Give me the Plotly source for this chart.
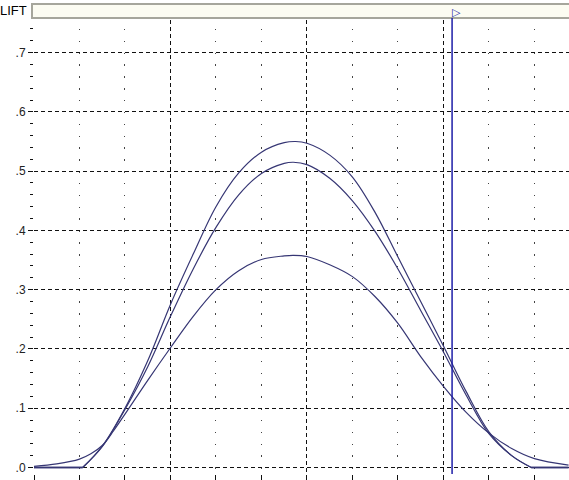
import plotly.graph_objects as go

# ---- data ----
x_a = [1.07, 1.5, 2.0, 2.5, 3.0, 3.5, 4.0, 4.5, 5.0, 5.5, 5.75, 6.0, 6.5, 7.0, 7.5, 8.0, 8.5, 9.0, 9.5, 10.0, 10.5, 10.93]
y_a = [0, 0.036, 0.10, 0.18, 0.275, 0.36, 0.44, 0.497, 0.532, 0.548, 0.55, 0.547, 0.527, 0.49, 0.43, 0.355, 0.28, 0.205, 0.128, 0.06, 0.02, 0]

x_b = [1.07, 1.5, 2.0, 2.5, 3.0, 3.5, 4.0, 4.5, 5.0, 5.5, 5.7, 6.0, 6.5, 7.0, 7.5, 8.0, 8.5, 9.0, 9.5, 10.0, 10.5, 10.93]
y_b = [0, 0.035, 0.098, 0.17, 0.255, 0.335, 0.405, 0.46, 0.496, 0.513, 0.515, 0.511, 0.488, 0.45, 0.398, 0.335, 0.265, 0.195, 0.122, 0.057, 0.02, 0]

x_c = [0, 0.5, 1.0, 1.25, 1.5, 1.75, 2.0, 2.5, 3.0, 3.5, 4.0, 4.5, 5.0, 5.5, 5.7, 6.0, 6.5, 7.0, 7.5, 8.0, 8.5, 9.0, 9.5, 10.0, 10.5, 11.0, 11.75]
y_c = [0.002, 0.006, 0.014, 0.023, 0.037, 0.062, 0.09, 0.147, 0.202, 0.255, 0.30, 0.332, 0.351, 0.357, 0.358, 0.356, 0.342, 0.322, 0.288, 0.243, 0.187, 0.137, 0.093, 0.058, 0.032, 0.015, 0.004]

x_end = 11.75          # right end of the zero-level tails of curves A and B
cursor_x = 9.19
y_tickvals = [0, 0.1, 0.2, 0.3, 0.4, 0.5, 0.6, 0.7]
y_ticktext = [".0", ".1", ".2", ".3", ".4", ".5", ".6", ".7"]
title_text = "LIFT"

# ---- figure ----
W, H = 569, 480
L, R, T, B = 34, 0, 20, 6
PW, PH = W - L - R, H - T - B
Y0, Y1 = -0.011, 0.755
X0, X1 = 0, 11.76

curve_color = "#363674"
fig = go.Figure()
line_style = dict(color=curve_color, width=1.2, shape="spline", smoothing=1.0)
fig.add_trace(go.Scatter(x=x_c, y=y_c, mode="lines", line=line_style,
                         hoverinfo="skip", showlegend=False))
for xs, ys in [(x_b, y_b), (x_a, y_a)]:
    fig.add_trace(go.Scatter(x=xs, y=ys, mode="lines", line=line_style,
                             hoverinfo="skip", showlegend=False))
    # flat zero tails at both ends
    fig.add_trace(go.Scatter(x=[0, xs[0], None, xs[-1], x_end], y=[ys[0], ys[0], None, ys[-1], ys[-1]],
                             mode="lines", line=dict(color=curve_color, width=1.4),
                             hoverinfo="skip", showlegend=False))

def py(p):
    return 1 + (T - p) / PH

def px(p):
    return (p - L) / PW

# header bar
fig.add_shape(type="rect", xref="paper", yref="paper",
              x0=px(32), x1=px(572), y0=py(18), y1=py(4),
              fillcolor="#fcfcf2", line=dict(color="#a6a69c", width=2), layer="above")

# cursor line
fig.add_shape(type="line", xref="x", yref="paper", x0=cursor_x, x1=cursor_x,
              y0=0, y1=py(18), line=dict(color="#1e1ea8", width=1.5))
fig.add_annotation(x=cursor_x, xref="x", y=py(12.5), yref="paper", yanchor="middle",
                   text="▷", showarrow=False, xanchor="left", xshift=-2, yshift=0,
                   font=dict(size=11, color="#1e1ea8", family="DejaVu Sans"))

fig.add_annotation(x=px(29), xref="paper", y=py(10), yref="paper", yanchor="middle",
                   text=title_text, showarrow=False, xanchor="right", yshift=0,
                   font=dict(size=13, color="#000000", family="Liberation Sans, Arial"))

period = 0.02 * PH / (Y1 - Y0)
first = (Y1 - 0.74) * PH / (Y1 - Y0)
dotdash = "0px,%.2fpx,1.5px,%.2fpx" % (first, period - first - 1.5)

fig.update_layout(
    width=W, height=H,
    margin=dict(l=L, r=R, t=T, b=B),
    paper_bgcolor="white", plot_bgcolor="white",
    font=dict(family="Liberation Sans, Arial", size=12, color="#222222"),
    xaxis=dict(range=[X0, X1], tick0=0, dtick=3, showgrid=True,
               griddash="4px,3px", gridcolor="#111111", gridwidth=1,
               zeroline=False, showline=False, showticklabels=False,
               ticks="outside", ticklen=6, tickcolor="#111111",
               minor=dict(dtick=1, tick0=0, showgrid=True, gridcolor="#444444",
                          griddash=dotdash, gridwidth=1,
                          ticks="outside", ticklen=6, tickcolor="#111111")),
    yaxis=dict(range=[Y0, Y1], tickvals=y_tickvals, ticktext=y_ticktext,
               showgrid=True, griddash="4px,3px", gridcolor="#111111", gridwidth=1,
               zeroline=False, showline=False,
               ticks="outside", ticklen=5, tickcolor="#111111",
               tickfont=dict(size=12, color="#222222"),
               minor=dict(tickvals=[round(i * 0.02, 2) for i in range(0, 38)],
                          ticks="outside", ticklen=3, tickcolor="#111111", showgrid=False)),
)

fig.write_html("out.html", config={"displayModeBar": False},
               post_script="document.body.style.margin='0px';document.body.style.overflow='hidden';")
